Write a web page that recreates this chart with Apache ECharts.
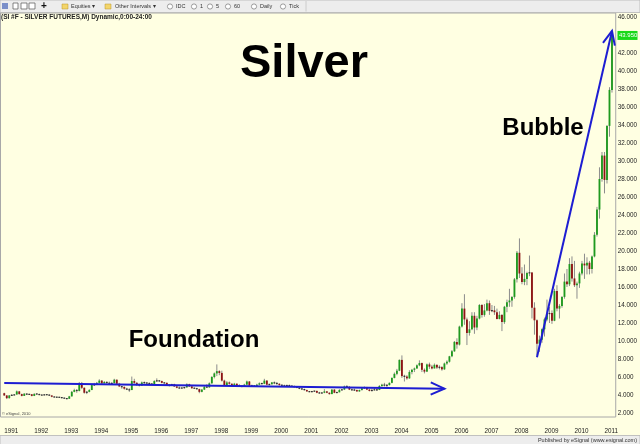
<!DOCTYPE html>
<html><head><meta charset="utf-8">
<script src="https://cdn.jsdelivr.net/npm/echarts@6/dist/echarts.min.js"></script>
<style>html,body{margin:0;padding:0;background:#FFFFE2;}#c{width:640px;height:444px;}</style>
</head><body><div id="c"></div>
<script>
// Monthly silver futures, [open, high, low, close] per month
const y1991 = [[4.20,4.25,3.90,3.95],[3.95,3.98,3.55,3.65],[3.65,4.00,3.60,3.95],[3.95,4.10,3.90,3.97],[3.97,4.10,3.95,4.05],[4.05,4.50,4.05,4.40],[4.40,4.45,4.05,4.10],[4.10,4.15,3.85,3.90],[3.90,4.20,3.90,4.15],[4.15,4.20,4.00,4.05],[4.05,4.15,4.00,4.08],[4.08,4.10,3.85,3.90]];
const y1992 = [[3.90,4.20,3.88,4.12],[4.12,4.20,4.05,4.10],[4.10,4.15,3.98,4.00],[4.00,4.05,3.95,3.98],[3.98,4.10,3.95,4.05],[4.05,4.10,3.98,4.02],[4.02,4.08,3.90,3.95],[3.95,3.98,3.75,3.80],[3.80,3.85,3.72,3.76],[3.76,3.82,3.70,3.75],[3.75,3.80,3.68,3.74],[3.74,3.78,3.62,3.68]];
const y1993 = [[3.68,3.72,3.58,3.62],[3.62,3.65,3.52,3.58],[3.58,3.90,3.56,3.85],[3.85,4.45,3.82,4.35],[4.35,4.70,4.30,4.55],[4.55,4.65,4.25,4.45],[4.45,5.45,4.40,5.30],[5.30,5.45,4.65,4.80],[4.80,4.85,4.15,4.25],[4.25,4.45,4.10,4.35],[4.35,4.65,4.30,4.55],[4.55,5.20,4.55,5.10]];
const y1994 = [[5.10,5.35,5.00,5.15],[5.15,5.45,5.10,5.35],[5.35,5.75,5.30,5.60],[5.60,5.65,5.20,5.30],[5.30,5.55,5.25,5.45],[5.45,5.50,5.25,5.35],[5.35,5.50,5.15,5.25],[5.25,5.45,5.15,5.30],[5.30,5.80,5.30,5.70],[5.70,5.72,5.20,5.25],[5.25,5.35,4.90,4.95],[4.95,5.00,4.70,4.90]];
const y1995 = [[4.90,4.95,4.60,4.70],[4.70,4.80,4.55,4.60],[4.60,4.75,4.35,4.55],[4.55,6.05,4.55,5.55],[5.55,5.80,5.25,5.35],[5.35,5.45,5.00,5.15],[5.15,5.25,4.95,5.05],[5.05,5.50,5.00,5.40],[5.40,5.50,5.25,5.35],[5.35,5.45,5.25,5.30],[5.30,5.40,5.20,5.25],[5.25,5.30,5.15,5.20]];
const y1996 = [[5.20,5.65,5.15,5.55],[5.55,5.85,5.45,5.60],[5.60,5.65,5.45,5.55],[5.55,5.60,5.30,5.35],[5.35,5.45,5.25,5.35],[5.35,5.40,5.00,5.10],[5.10,5.20,4.95,5.10],[5.10,5.25,5.05,5.20],[5.20,5.25,4.90,4.95],[4.95,5.00,4.75,4.80],[4.80,4.95,4.70,4.75],[4.75,4.85,4.70,4.80]];
const y1997 = [[4.80,4.90,4.70,4.85],[4.85,5.30,4.80,5.20],[5.20,5.25,4.90,4.95],[4.95,5.00,4.70,4.75],[4.75,4.85,4.70,4.75],[4.75,4.80,4.60,4.65],[4.65,4.70,4.20,4.35],[4.35,4.65,4.30,4.60],[4.60,5.00,4.55,4.90],[4.90,5.20,4.80,4.85],[4.85,5.40,4.80,5.30],[5.30,6.10,5.25,6.00]];
const y1998 = [[6.00,6.50,5.85,6.40],[6.40,7.40,6.10,6.65],[6.65,6.75,6.20,6.45],[6.45,6.70,5.50,5.60],[5.60,5.70,5.00,5.10],[5.10,5.55,5.05,5.40],[5.40,5.50,5.15,5.25],[5.25,5.30,4.95,5.05],[5.05,5.35,5.00,5.25],[5.25,5.30,4.95,5.05],[5.05,5.20,4.95,5.00],[5.00,5.05,4.85,4.95]];
const y1999 = [[4.95,5.25,4.90,5.15],[5.15,5.60,5.10,5.50],[5.50,5.55,5.00,5.05],[5.05,5.15,4.90,5.00],[5.00,5.10,4.95,5.00],[5.00,5.25,4.95,5.15],[5.15,5.40,5.10,5.30],[5.30,5.35,5.15,5.25],[5.25,5.80,5.20,5.60],[5.60,5.65,5.10,5.15],[5.15,5.25,5.05,5.20],[5.20,5.45,5.15,5.40]];
const y2000 = [[5.40,5.50,5.20,5.30],[5.30,5.45,5.15,5.25],[5.25,5.30,5.05,5.10],[5.10,5.20,5.00,5.05],[5.05,5.15,4.95,5.00],[5.00,5.15,4.95,5.10],[5.10,5.15,4.95,5.00],[5.00,5.10,4.90,4.95],[4.95,5.05,4.85,4.90],[4.90,4.95,4.75,4.80],[4.80,4.85,4.65,4.70],[4.70,4.75,4.55,4.65]];
const y2001 = [[4.65,4.70,4.50,4.55],[4.55,4.60,4.35,4.40],[4.40,4.45,4.30,4.35],[4.35,4.45,4.30,4.40],[4.40,4.50,4.35,4.45],[4.45,4.50,4.20,4.25],[4.25,4.35,4.15,4.20],[4.20,4.30,4.15,4.25],[4.25,4.65,4.20,4.40],[4.40,4.45,4.20,4.25],[4.25,4.30,4.05,4.10],[4.10,4.65,4.10,4.60]];
const y2002 = [[4.60,4.65,4.20,4.25],[4.25,4.35,4.20,4.30],[4.30,4.65,4.30,4.55],[4.55,4.65,4.50,4.60],[4.60,5.05,4.55,4.95],[4.95,5.10,4.80,4.90],[4.90,5.00,4.55,4.60],[4.60,4.70,4.50,4.55],[4.55,4.70,4.45,4.55],[4.55,4.60,4.35,4.40],[4.40,4.60,4.35,4.55],[4.55,4.85,4.50,4.75]];
const y2003 = [[4.75,4.95,4.70,4.85],[4.85,4.90,4.55,4.60],[4.60,4.70,4.40,4.45],[4.45,4.70,4.40,4.55],[4.55,4.80,4.50,4.60],[4.60,4.70,4.45,4.55],[4.55,5.10,4.55,5.00],[5.00,5.25,4.90,5.15],[5.15,5.35,4.95,5.05],[5.05,5.20,4.85,5.10],[5.10,5.40,5.05,5.35],[5.35,5.95,5.30,5.90]];
const y2004 = [[5.90,6.50,5.85,6.35],[6.35,6.90,6.20,6.70],[6.70,7.95,6.65,7.90],[7.90,8.40,5.90,6.10],[6.10,6.25,5.50,6.05],[6.05,6.20,5.70,5.85],[5.85,6.75,5.80,6.55],[6.55,6.90,6.30,6.80],[6.80,7.05,6.55,6.95],[6.95,7.40,6.90,7.30],[7.30,7.85,7.20,7.55],[7.55,7.60,6.55,6.80]];
const y2005 = [[6.80,6.95,6.40,6.60],[6.60,7.50,6.55,7.40],[7.40,7.60,6.90,7.15],[7.15,7.35,6.85,6.95],[6.95,7.50,6.95,7.35],[7.35,7.40,6.90,7.05],[7.05,7.30,6.85,7.10],[7.10,7.20,6.70,6.85],[6.85,7.60,6.80,7.50],[7.50,7.85,7.35,7.70],[7.70,8.35,7.60,8.30],[8.30,9.00,8.20,8.85]];
const y2006 = [[8.85,10.00,8.80,9.90],[9.90,10.30,9.15,9.60],[9.60,11.70,9.50,11.60],[11.60,14.20,11.50,13.60],[13.60,15.20,11.80,12.40],[12.40,12.60,9.55,10.90],[10.90,12.20,10.60,11.30],[11.30,13.20,11.20,12.80],[12.80,13.20,10.80,11.50],[11.50,12.80,11.20,12.50],[12.50,14.10,12.40,14.00],[14.00,14.10,12.60,12.90]];
const y2007 = [[12.90,14.10,12.70,13.40],[13.40,14.60,13.30,14.20],[14.20,14.50,12.90,13.35],[13.35,14.00,13.20,13.40],[13.40,13.90,12.90,13.20],[13.20,13.60,12.40,12.45],[12.45,13.30,12.40,12.90],[12.90,13.00,11.10,12.10],[12.10,13.90,11.90,13.80],[13.80,14.60,13.20,14.30],[14.30,15.80,13.80,14.50],[14.50,15.00,13.80,14.90]];
const y2008 = [[14.90,17.00,14.70,16.85],[16.85,20.00,16.50,19.80],[19.80,21.40,17.00,17.50],[17.50,18.20,16.30,16.55],[16.55,18.50,16.20,16.90],[16.90,17.70,16.20,17.55],[17.55,19.50,17.20,17.60],[17.60,17.65,12.50,13.70],[13.70,14.30,10.70,12.30],[12.30,12.40,8.40,9.70],[9.70,10.60,8.80,10.15],[10.15,11.40,9.80,11.30]];
const y2009 = [[11.30,12.60,10.50,12.40],[12.40,14.60,12.20,13.00],[13.00,13.80,12.00,13.10],[13.10,13.40,11.90,12.25],[12.25,15.80,12.20,15.55],[15.55,16.20,13.30,13.60],[13.60,14.10,12.50,13.90],[13.90,15.00,13.70,14.90],[14.90,17.50,14.70,16.60],[16.60,18.00,16.00,16.30],[16.30,19.20,16.10,18.55],[18.55,19.40,16.60,16.95]];
const y2010 = [[16.95,18.90,16.00,16.20],[16.20,16.60,14.70,16.40],[16.40,17.70,15.90,17.50],[17.50,18.90,17.30,18.60],[18.60,19.70,16.90,18.40],[18.40,19.30,17.40,18.70],[18.70,18.90,17.40,18.00],[18.00,19.50,17.50,19.40],[19.40,22.10,19.30,21.80],[21.80,24.90,21.60,24.60],[24.60,29.30,23.60,28.00],[28.00,31.00,27.70,30.60]];
const y2011 = [[30.60,31.00,26.40,27.90],[27.90,34.00,27.50,33.90],[33.90,38.20,32.70,37.90],[37.90,44.30,37.60,43.95]];

const years = [1991,1992,1993,1994,1995,1996,1997,1998,1999,2000,2001,2002,2003,2004,2005,2006,2007,2008,2009,2010,2011];
const yearRows = [y1991,y1992,y1993,y1994,y1995,y1996,y1997,y1998,y1999,y2000,y2001,y2002,y2003,y2004,y2005,y2006,y2007,y2008,y2009,y2010,y2011];
const priceTicks = [2,4,6,8,10,12,14,16,18,20,22,24,26,28,30,32,34,36,38,40,42,44,46];
const lastPrice = 43.95;
// annotation arrows in data space: [category, value]
const foundationArrow = [['1991-01', 5.33], ['2005-09', 4.70]];
const bubbleArrow = [['2008-10', 8.2], ['2011-04', 44.45]];

const categories = ['1990-12'];
const candles = [];
yearRows.forEach((rows, yi) => rows.forEach((r, mi) => {
  const key = years[yi] + '-' + String(mi + 1).padStart(2, '0');
  categories.push(key);
  candles.push([key, r[0], r[1], r[2], r[3]]);
}));
categories.push('2011-05');

const FONT = "'Liberation Sans', Arial, sans-serif";
const BLUE = '#1d1dd2';
const chart = echarts.init(document.getElementById('c'));

chart.setOption({
  backgroundColor: '#FFFFE2',
  animation: false,
  grid: { left: 0.5, right: 23, top: 13, bottom: 27, show: true, borderColor: '#a8a8a8', borderWidth: 1, backgroundColor: '#FFFFE2' },
  xAxis: {
    type: 'category', data: categories, boundaryGap: true,
    axisLine: { show: false }, axisTick: { show: false }, splitLine: { show: false },
    axisLabel: {
      interval: (i, v) => v.endsWith('-01') && v.slice(0,4) >= '1991',
      formatter: v => v.slice(0, 4), align: 'left', fontSize: 6.3, color: '#222', margin: 11, fontFamily: FONT
    }
  },
  yAxis: {
    type: 'value', position: 'right', min: 1.556, max: 46.444,
    axisLine: { show: false }, axisTick: { show: false }, splitLine: { show: false },
    axisLabel: { customValues: priceTicks, showMinLabel: true, showMaxLabel: true, formatter: v => v.toFixed(3), fontSize: 6.3, color: '#222', margin: 2, fontFamily: FONT }
  },
  series: [{
    type: 'custom', data: candles, encode: { x: 0, y: [1, 2, 3, 4] }, clip: true,
    renderItem: function (params, api) {
      const x = api.value(0);
      const o = api.value(1), h = api.value(2), l = api.value(3), c = api.value(4);
      const pO = api.coord([x, o]), pC = api.coord([x, c]), pH = api.coord([x, h]), pL = api.coord([x, l]);
      const bw = Math.max(1.4, api.size([1, 0])[0] * 0.74);
      let top = Math.min(pO[1], pC[1]);
      let hgt = Math.abs(pO[1] - pC[1]);
      let fill = c >= o ? '#1f9a1f' : '#8e1414';
      if (hgt < 1.2) { top = (pO[1] + pC[1]) / 2 - 0.6; hgt = 1.2; fill = '#333333'; }
      return { type: 'group', children: [
        { type: 'line', shape: { x1: pH[0], y1: pH[1], x2: pL[0], y2: pL[1] }, style: { stroke: '#8c8c8c', lineWidth: 1 } },
        { type: 'rect', shape: { x: pO[0] - bw / 2, y: top, width: bw, height: hgt }, style: { fill: fill } }
      ]};
    }
  }]
});

function px(pt) {
  return chart.convertToPixel({ xAxisIndex: 0, yAxisIndex: 0 }, [categories.indexOf(pt[0]), pt[1]]);
}
function arrow(pts) {
  const s = px(pts[0]), t = px(pts[1]);
  const dx = s[0] - t[0], dy = s[1] - t[1], len = Math.hypot(dx, dy);
  const ux = dx / len, uy = dy / len, L = 15, a = 24 * Math.PI / 180;
  const rot = g => [ux * Math.cos(g) - uy * Math.sin(g), ux * Math.sin(g) + uy * Math.cos(g)];
  const r1 = rot(a), r2 = rot(-a);
  return [
    { type: 'line', z: 100, shape: { x1: s[0], y1: s[1], x2: t[0], y2: t[1] }, style: { stroke: BLUE, lineWidth: 2 } },
    { type: 'polyline', z: 100, shape: { points: [[t[0] + r1[0] * L, t[1] + r1[1] * L], [t[0], t[1]], [t[0] + r2[0] * L, t[1] + r2[1] * L]] }, style: { stroke: BLUE, lineWidth: 2, fill: null } }
  ];
}
const lp = px(['2011-04', lastPrice]);
const T = (text, x, y, size, opts) => Object.assign({ type: 'text', z: 110, x: x, y: y, style: Object.assign({ text: text, fontSize: size, fontFamily: FONT, fill: '#333', align: 'left', verticalAlign: 'middle' }, opts || {}) });
const radio = x => ({ type: 'circle', z: 110, shape: { cx: x, cy: 6.5, r: 2.6 }, style: { fill: '#fff', stroke: '#777', lineWidth: 0.7 } });
const folder = x => ({ type: 'rect', z: 110, shape: { x: x, y: 4, width: 6, height: 5 }, style: { fill: '#f3d56b', stroke: '#b8962a', lineWidth: 0.5 } });

const g = [
  { type: 'rect', z: 105, shape: { x: 0, y: 0, width: 640, height: 12.5 }, style: { fill: '#ededed', stroke: '#b4b4b4', lineWidth: 0.8 } },
  { type: 'rect', z: 110, shape: { x: 2, y: 3, width: 6, height: 6 }, style: { fill: '#7b8fc9' } },
  { type: 'rect', z: 110, shape: { x: 13, y: 3, width: 5, height: 6 }, style: { fill: '#fff', stroke: '#555', lineWidth: 0.7 } },
  { type: 'rect', z: 110, shape: { x: 21, y: 3, width: 6, height: 6 }, style: { fill: '#fff', stroke: '#555', lineWidth: 0.7 } },
  { type: 'rect', z: 110, shape: { x: 29, y: 3, width: 6, height: 6 }, style: { fill: '#fff', stroke: '#555', lineWidth: 0.7 } },
  T('+', 41, 6.5, 10, { fontWeight: 'bold', fill: '#111' }),
  folder(62), T('Equities \u25be', 71, 6.5, 5.5),
  folder(105), T('Other Intervals \u25be', 115, 6.5, 5.5),
  radio(170), T('IDC', 176, 6.5, 5.5),
  radio(194), T('1', 200, 6.5, 5.5),
  radio(210), T('5', 216, 6.5, 5.5),
  radio(228), T('60', 234, 6.5, 5.5),
  radio(254), T('Daily', 260, 6.5, 5.5),
  radio(283), T('Tick', 289, 6.5, 5.5),
  { type: 'line', z: 110, shape: { x1: 306, y1: 1, x2: 306, y2: 11.5 }, style: { stroke: '#c4c4c4', lineWidth: 0.8 } },
  T('(SI #F - SILVER FUTURES,M) Dynamic,0:00-24:00', 1, 17.5, 6.5, { fontWeight: 'bold', fill: '#222' }),
  T('Silver', 304, 64, 47, { fontWeight: 'bold', fill: '#000', align: 'center' }),
  T('Bubble', 543, 128, 24, { fontWeight: 'bold', fill: '#000', align: 'center' }),
  T('Foundation', 194, 340, 24, { fontWeight: 'bold', fill: '#000', align: 'center' }),
  T('\u00a9 eSignal, 2010', 2, 413.5, 4, { fill: '#444' }),
  { type: 'rect', z: 105, shape: { x: 0, y: 435.5, width: 640, height: 9 }, style: { fill: '#ededed', stroke: '#b4b4b4', lineWidth: 0.8 } },
  T('Published by eSignal (www.esignal.com)', 637, 440, 5.5, { align: 'right', fill: '#333' }),
  { type: 'rect', z: 110, shape: { x: 617.5, y: lp[1] - 4.5, width: 20, height: 9 }, style: { fill: '#19d919' } },
  T(lastPrice.toFixed(3), 619, lp[1], 6, { fill: '#ffffff' })
].concat(arrow(foundationArrow), arrow(bubbleArrow));

chart.setOption({ graphic: g });
</script>
</body></html>
